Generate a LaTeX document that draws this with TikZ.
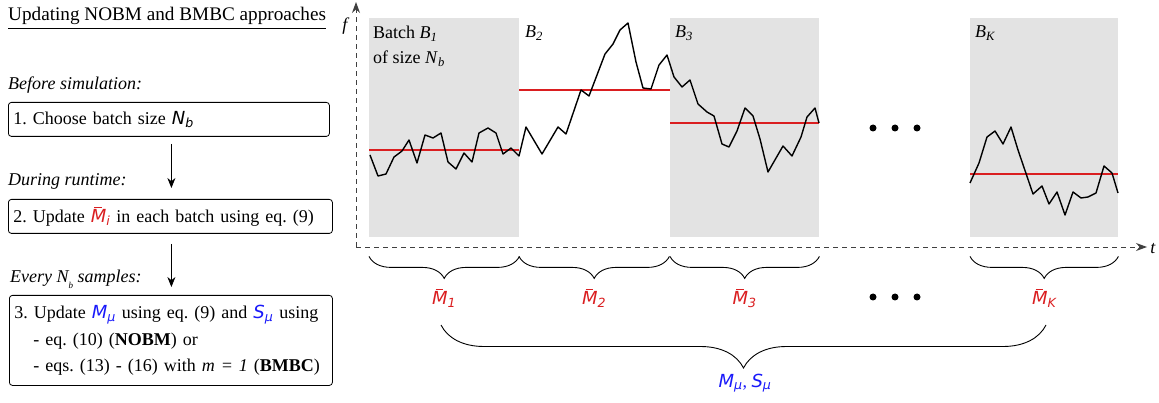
\documentclass[tikz,border=0pt]{standalone}
\usepackage{amsmath}
\usepackage{fontspec}
\setmainfont{Liberation Serif}
\newfontfamily\dvsans{DejaVu Sans}
\usepackage{tikz}
\usetikzlibrary{arrows.meta,positioning,calc,decorations.pathreplacing}

\definecolor{meanred}{RGB}{218,30,32}
\definecolor{statblue}{RGB}{25,25,250}
\definecolor{batchgray}{RGB}{227,227,227}

\frenchspacing
\newcommand{\basefont}{\fontsize{18}{21}\selectfont}
\newcommand{\vi}[2]{\textit{#1}\textsubscript{\textit{#2}}}
\newcommand{\vs}[2]{{\dvsans\itshape #1}\textsubscript{\dvsans\itshape #2}}
\newcommand{\mbar}[1]{{\dvsans\itshape\rlap{\kern3.5pt\raisebox{14.5pt}{\rule{7.5pt}{1.2pt}}}M}\textsubscript{\dvsans\itshape #1}}

\tikzset{
  flow/label/.style={font=\basefont\itshape, anchor=base west, inner sep=0pt},
  flow/stepbox/.style={draw, rounded corners=3pt, line width=0.8pt, anchor=north west, align=left, inner xsep=5pt, inner ysep=0pt},
  flow/arrow/.style={line width=0.8pt, -{Stealth[length=10pt,width=8pt]}},
  plot/axis/.style={dash pattern=on 5pt off 4pt, line width=0.9pt, draw=black!75, -{Stealth[length=11pt,width=8pt]}},
  plot/batch/.style={fill=batchgray, anchor=north west, minimum width=150pt, minimum height=219pt, inner sep=0pt},
  plot/slot/.style={plot/batch, fill=none},
  plot/tag/.style={anchor=north west, inner sep=0pt, align=left, font=\fontsize{18}{25}\selectfont},
  plot/mean/.style={draw=meanred, line width=1.3pt},
  plot/signal/.style={line width=1.4pt, line join=round},
  plot/brace/.style={decorate, decoration={brace, mirror, amplitude=#1}, line width=0.9pt},
  plot/brace/.default=22pt,
  plot/dot/.style={circle, fill, inner sep=0pt, minimum size=7pt},
  plot/meanlbl/.style={text=meanred, inner sep=1pt}
}

\begin{document}
\begin{tikzpicture}[x=1pt, y=-1pt, font=\basefont]
  \useasboundingbox (0,0) rectangle (1159,403);

  % left column
  \node[anchor=base west, inner sep=0pt, font=\fontsize{19.2}{22}\selectfont] (title) at (8,21) {\underline{Updating NOBM and BMBC approaches}};
  \node[flow/label] (before) at (8,90) {Before simulation:};
  \node[flow/stepbox, text width=311pt, minimum height=34pt] (boxchoose) at (8,102) {1. Choose batch size \vs{N}{b}};
  \node[flow/label] (during) at (8,186) {During runtime:};
  \node[flow/stepbox, text width=314pt, minimum height=34pt] (boxupdate) at (8,199)
    {2. Update {\color{meanred}\mbar{i}} in each batch using eq. (9)};
  \node[flow/label] (every) at (10,283) {Every N\raisebox{-6pt}{\small b} samples:};
  \node[flow/stepbox, text width=313pt, minimum height=90pt, font=\fontsize{18}{26.5}\selectfont] (boxstats) at (9,295)
    {3. Update {\color{statblue}\vs{M}{μ}} using eq. (9) and {\color{statblue}\vs{S}{μ}} using\\
     \hspace*{19pt}- eq. (10) (\textbf{NOBM}) or\\
     \hspace*{19pt}- eqs. (13) - (16) with \textit{m = 1} (\textbf{BMBC})};

  \draw[flow/arrow] ([xshift=2.5pt,yshift=-7pt]boxchoose.south) -- ([xshift=1pt,yshift=11pt]boxupdate.north);
  \draw[flow/arrow] ([xshift=1pt,yshift=-10pt]boxupdate.south) -- ([xshift=0.5pt,yshift=8pt]boxstats.north);

  % batches
  \node[plot/batch] (bone) at (369,18) {};
  \node[plot/slot] (btwo) at (519,18) {};
  \node[plot/batch, minimum width=149pt] (bthree) at (670,18) {};
  \node[plot/batch, minimum width=148pt] (bk) at (970,18) {};

  \node[plot/tag] (tagone) at ($(bone.north west)+(4,8)$) {Batch \vi{B}{1}\\of size \vi{N}{b}};
  \node[plot/tag] (tagtwo) at ($(btwo.north west)+(6,8)$) {\vi{B}{2}};
  \node[plot/tag] (tagthree) at ($(bthree.north west)+(5,8)$) {\vi{B}{3}};
  \node[plot/tag] (tagk) at ($(bk.north west)+(5,8)$) {\vi{B}{K}};

  % axes
  \coordinate (origin) at (356,247);
  \coordinate (ytop) at (356,2);
  \coordinate (xend) at (1147,247);
  \draw[plot/axis] (origin) -- (ytop);
  \draw[plot/axis] (origin) -- (xend);
  \node[inner sep=0pt] (flbl) at (346,26) {\textit{f}};
  \node[inner sep=0pt] (tlbl) at (1153,249) {\textit{t}};

  % batch means
  \draw[plot/mean] (369,150) -- (519,150);
  \draw[plot/mean] (519,90) -- (670,90);
  \draw[plot/mean] (670,123) -- (819,123);
  \draw[plot/mean] (970,174) -- (1118,174);

  % signal
  \draw[plot/signal] plot coordinates {(370,155) (378,176) (386,174) (394,157) (402,151) (409,140) (417,163)
    (425,135) (433,138) (441,133) (448,162) (456,169) (464,153) (472,162) (479,133) (488,128) (496,133)
    (503,154) (511,148) (519,156) (526,127) (542,154) (558,127) (566,134) (581,90) (589,96) (605,54)
    (613,44) (620,30) (628,23) (636,62) (643,88) (651,89) (659,65) (667,55) (674,77) (682,87) (690,80)
    (698,104) (707,112) (714,116) (722,144) (729,147) (737,131) (745,108) (753,116) (760,139) (768,172)
    (783,146) (792,156) (801,137) (807,117) (815,108) (819,123)};
  \draw[plot/signal] plot coordinates {(970,183) (979,163) (987,137) (995,131) (1003,144) (1011,127)
    (1018,150) (1033,194) (1042,186) (1049,204) (1057,192) (1065,215) (1073,192) (1081,198) (1088,197)
    (1096,193) (1104,166) (1112,173) (1118,193)};

  \foreach \dx [count=\i] in {873,895,917} {
    \node[plot/dot] (updot\i) at (\dx,128) {};
    \node[plot/dot] (lowdot\i) at (\dx,297) {};
  }

  % braces and batch statistics
  \draw[plot/brace] ([yshift=-19pt]bone.south west) -- ([yshift=-19pt]bone.south east);
  \draw[plot/brace] ([yshift=-19pt]btwo.south west) -- ([yshift=-19pt]btwo.south east);
  \draw[plot/brace] ([yshift=-19pt]bthree.south west) -- ([yshift=-19pt]bthree.south east);
  \draw[plot/brace] ([yshift=-19pt]bk.south west) -- ([yshift=-19pt]bk.south east);

  \node[plot/meanlbl] (mone) at ($(bone.south)+(0,61)$) {\mbar{1}};
  \node[plot/meanlbl] (mtwo) at ($(btwo.south)+(0,61)$) {\mbar{2}};
  \node[plot/meanlbl] (mthree) at ($(bthree.south)+(0,61)$) {\mbar{3}};
  \node[plot/meanlbl] (mk) at ($(bk.south)+(0,61)$) {\mbar{K}};

  \coordinate (braceleft) at (441,325);
  \coordinate (braceright) at (1046,325);
  \draw[plot/brace=43pt] (braceleft) -- (braceright);
  \node[text=statblue, inner sep=1pt] (stats) at (745,383) {\vs{M}{μ}, \vs{S}{μ}};
\end{tikzpicture}
\end{document}
